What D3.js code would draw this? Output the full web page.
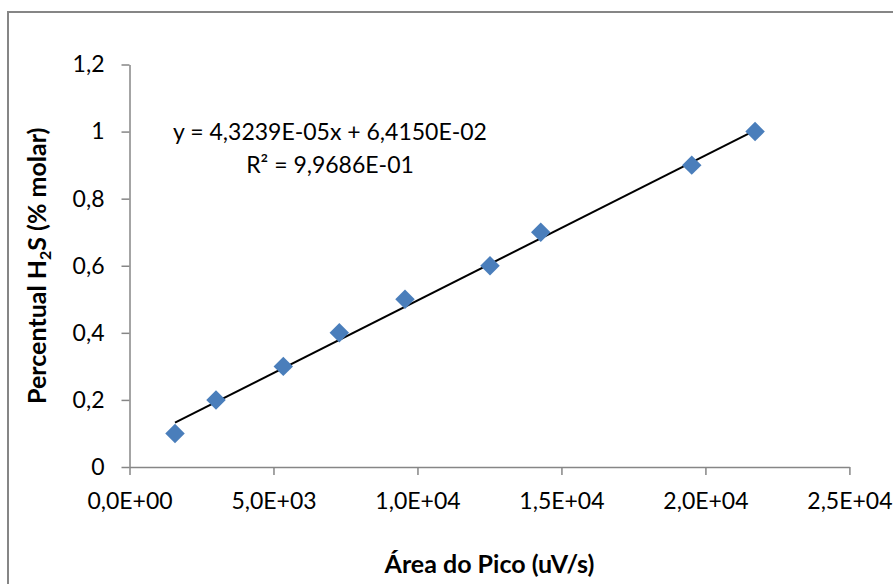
<!DOCTYPE html>
<html>
<head>
<meta charset="utf-8">
<script src="https://cdn.jsdelivr.net/npm/d3@7"></script>
<style>
  html, body { margin: 0; padding: 0; background: #fff; }
  svg { display: block; font-family: Lato, "Open Sans", sans-serif; }
</style>
</head>
<body>
<div id="chart"></div>
<script>
// peak area (uV/s) vs H2S molar percent
const areas = [1580, 3004, 5341, 7286, 9568, 12520, 14281, 19525, 21724];
const percents = [0.1, 0.2, 0.3, 0.4, 0.5, 0.6, 0.7, 0.9, 1.0];
const xTicks = [0, 5000, 10000, 15000, 20000, 25000];
const yTicks = [0, 0.2, 0.4, 0.6, 0.8, 1, 1.2];
const slope = 4.3239e-05;
const intercept = 6.4150e-02;
const equationLines = ['y = 4,3239E-05x + 6,4150E-02', 'R² = 9,9686E-01'];

const width = 893;
const height = 584;
const margin = { top: 64.5, right: 43.6, bottom: 117, left: 129.5 };
const axisColor = '#868686';
const fontSize = 23;
const titleSize = 25;

const svg = d3.select('#chart').append('svg')
  .attr('width', width)
  .attr('height', height);

// chart area border (runs off the right / bottom edge)
svg.append('rect')
  .attr('x', 8)
  .attr('y', 12)
  .attr('width', width)
  .attr('height', height)
  .attr('fill', 'none')
  .attr('stroke', axisColor)
  .attr('stroke-width', 2);

const x = d3.scaleLinear()
  .domain([0, 25000])
  .range([margin.left, width - margin.right]);

const y = d3.scaleLinear()
  .domain([0, 1.2])
  .range([height - margin.bottom, margin.top]);

const fmtX = v => v.toExponential(1).replace('.', ',').replace(/e([+-])(\d)$/, 'E$10$2').replace(/e/, 'E');
const fmtY = v => String(+v.toFixed(1)).replace('.', ',');

const xAxis = svg.append('g')
  .attr('transform', `translate(0,${y(0)})`)
  .call(d3.axisBottom(x).tickValues(xTicks).tickFormat(fmtX).tickSize(8).tickSizeOuter(0).tickPadding(18));

const yAxis = svg.append('g')
  .attr('transform', `translate(${x(0)},0)`)
  .call(d3.axisLeft(y).tickValues(yTicks).tickFormat(fmtY).tickSize(8).tickSizeOuter(0).tickPadding(17));

[xAxis, yAxis].forEach(g => {
  g.select('.domain').attr('stroke', axisColor).attr('stroke-width', 1.5);
  g.selectAll('.tick line').attr('stroke', axisColor).attr('stroke-width', 1.5);
  g.selectAll('.tick text')
    .attr('fill', '#000')
    .attr('font-size', fontSize)
    .attr('font-family', 'Lato, sans-serif');
});

// trendline across the data range
const xExtent = d3.extent(areas);
svg.append('line')
  .attr('x1', x(xExtent[0]))
  .attr('y1', y(slope * xExtent[0] + intercept))
  .attr('x2', x(xExtent[1]))
  .attr('y2', y(slope * xExtent[1] + intercept))
  .attr('stroke', '#000')
  .attr('stroke-width', 2);

// diamond markers
const diamond = d3.symbol().type(d3.symbolSquare).size(190);
svg.append('g')
  .selectAll('path')
  .data(areas.map((a, i) => [a, percents[i]]))
  .join('path')
    .attr('d', diamond)
    .attr('transform', d => `translate(${x(d[0])},${y(d[1])}) rotate(45)`)
    .attr('fill', '#4a7ebb');

// regression label
svg.append('g')
  .selectAll('text')
  .data(equationLines)
  .join('text')
    .attr('x', 330)
    .attr('y', (d, i) => 140 + i * 33)
    .attr('text-anchor', 'middle')
    .attr('font-size', fontSize)
    .text(d => d);

// axis titles
svg.append('text')
  .attr('x', (x.range()[0] + x.range()[1]) / 2)
  .attr('y', 573)
  .attr('text-anchor', 'middle')
  .attr('font-size', titleSize)
  .attr('font-weight', 'bold')
  .text('Área do Pico (uV/s)');

const yTitle = svg.append('text')
  .attr('transform', `translate(46,${(y.range()[0] + y.range()[1]) / 2}) rotate(-90)`)
  .attr('text-anchor', 'middle')
  .attr('font-size', titleSize)
  .attr('font-weight', 'bold');
yTitle.append('tspan').text('Percentual H');
yTitle.append('tspan').attr('font-size', 16).attr('dy', 5).text('2');
yTitle.append('tspan').attr('dy', -5).text('S (% molar)');
</script>
</body>
</html>
